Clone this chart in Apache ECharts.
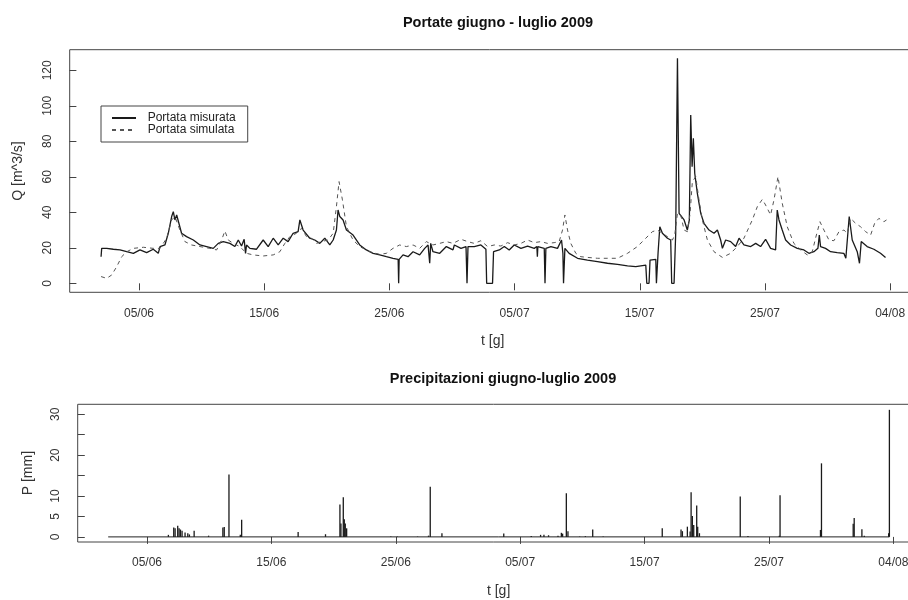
<!DOCTYPE html>
<html>
<head>
<meta charset="utf-8">
<title>Portate giugno - luglio 2009</title>
<script src="https://cdn.jsdelivr.net/npm/echarts@6/dist/echarts.min.js"></script>
<style>
html, body { margin: 0; padding: 0; background: #fff; }
#main { width: 908px; height: 600px; }
</style>
</head>
<body>
<div id="main"></div>
<script>
// tempo in giorni: 5 = 05/06 00:00, 35 = 05/07, 65 = 04/08
const dayTicks = [5, 15, 25, 35, 45, 55, 65]
const dayTickLabels = ['05/06', '15/06', '25/06', '05/07', '15/07', '25/07', '04/08']

// portata misurata [giorno, Q m^3/s]
const portataMisurata = [
    [1.97, 15.0], [2.02, 19.7], [2.42, 19.7], [2.95, 19.2], [3.48, 18.8], [4.02, 17.8], [4.55, 16.9],
    [5.08, 18.8], [5.61, 17.3], [6.14, 19.2], [6.54, 16.9], [6.68, 20.7], [7.07, 21.6], [7.34, 28.2],
    [7.61, 37.6], [7.74, 40.4], [7.87, 35.7], [8.01, 38.5], [8.14, 37.6], [8.40, 28.2], [8.80, 26.3],
    [9.34, 24.4], [9.87, 21.6], [10.40, 20.7], [10.93, 19.7], [11.33, 22.5], [11.73, 23.5], [12.26, 22.5],
    [12.66, 20.7], [12.93, 24.4], [13.19, 21.0], [13.40, 24.8], [13.51, 16.9], [13.59, 21.6], [13.86, 19.7],
    [14.39, 19.2], [14.92, 24.4], [15.32, 20.7], [15.72, 25.4], [16.12, 21.6], [16.52, 25.4], [16.91, 23.5],
    [17.31, 28.2], [17.71, 29.1], [17.85, 35.7], [18.11, 30.0], [18.64, 25.4], [19.04, 24.4], [19.44, 22.5],
    [19.84, 25.4], [20.24, 21.6], [20.51, 24.4], [20.77, 30.0], [20.90, 41.3], [21.04, 37.6], [21.30, 35.7],
    [21.57, 30.0], [22.10, 27.2], [22.63, 21.6], [23.16, 18.8], [23.70, 16.9], [24.23, 16.0], [24.76, 15.0],
    [25.29, 14.1], [25.70, 13.5], [25.74, 0], [25.78, 13.5], [26.09, 16.0], [26.49, 15.0], [26.89, 17.8],
    [27.42, 16.0], [27.82, 19.7], [28.09, 21.6], [28.22, 11.3], [28.30, 22.5], [28.48, 17.8], [29.02, 16.9],
    [29.55, 20.7], [30.08, 18.8], [30.19, 21.6], [30.72, 19.7], [31.12, 20.7], [31.20, 0], [31.28, 20.7],
    [31.78, 20.7], [32.31, 21.6], [32.71, 19.2], [32.77, 0], [33.24, 0], [33.32, 17.8], [33.78, 18.8],
    [34.18, 20.7], [34.57, 18.8], [34.97, 21.6], [35.51, 19.7], [36.04, 21.0], [36.57, 19.7], [36.78, 20.7],
    [36.82, 15.0], [36.86, 20.7], [37.37, 19.7], [37.43, 0], [37.50, 19.7], [37.90, 20.7], [38.43, 19.7],
    [38.75, 24.4], [38.86, 16.9], [38.91, 0], [39.02, 19.7], [39.36, 16.9], [40.03, 14.1], [40.82, 13.1],
    [41.62, 12.2], [42.42, 11.3], [43.22, 10.7], [44.02, 9.8], [44.68, 9.4], [45.48, 10.3], [45.56, 0],
    [45.74, 0], [45.82, 13.1], [46.28, 13.5], [46.33, 0], [46.40, 0], [46.46, 16.9], [46.60, 31.9],
    [46.81, 28.2], [47.21, 25.4], [47.47, 24.4], [47.55, 0], [47.74, 0], [47.87, 28.2], [48.01, 126.8],
    [48.14, 39.4], [48.54, 35.7], [48.80, 30.0], [48.96, 35.7], [49.07, 94.8], [49.18, 65.7], [49.28, 81.7],
    [49.39, 62.0], [49.60, 50.7], [49.87, 39.4], [50.13, 33.8], [50.53, 30.0], [50.93, 28.2], [51.20, 30.0],
    [51.46, 24.4], [51.60, 19.7], [51.86, 24.4], [52.26, 23.5], [52.66, 20.7], [52.93, 25.4], [53.32, 21.6],
    [53.86, 20.7], [54.26, 22.5], [54.65, 20.7], [55.05, 24.8], [55.45, 19.7], [55.85, 18.8], [55.98, 41.3],
    [56.12, 35.7], [56.38, 30.0], [56.65, 24.4], [57.05, 21.6], [57.58, 19.7], [58.11, 18.8], [58.51, 16.9],
    [58.91, 17.8], [59.23, 19.7], [59.34, 27.2], [59.44, 20.7], [59.84, 19.7], [60.24, 17.8], [60.77, 17.3],
    [61.30, 16.9], [61.46, 14.1], [61.73, 37.6], [61.97, 24.4], [62.37, 17.8], [62.55, 11.3], [62.69, 23.5],
    [63.16, 20.7], [63.70, 19.2], [64.23, 16.9], [64.63, 14.6]
]

// portata simulata [giorno, Q m^3/s]
const portataSimulata = [
    [1.97, 3.8], [2.42, 2.8], [2.82, 4.7], [3.22, 9.4], [3.62, 15.0], [4.02, 17.8], [4.55, 19.7],
    [5.35, 20.3], [6.14, 19.7], [6.68, 19.7], [7.21, 25.4], [7.61, 35.7], [7.87, 37.6], [8.27, 30.0],
    [8.67, 23.5], [9.20, 21.6], [9.87, 20.7], [10.66, 19.7], [11.20, 18.8], [11.60, 24.4], [11.86, 29.5],
    [12.13, 24.4], [12.53, 22.5], [13.06, 20.7], [13.59, 16.9], [14.12, 16.0], [14.92, 15.4], [15.72, 16.0],
    [16.25, 17.8], [16.65, 22.5], [17.05, 26.3], [17.58, 28.2], [17.98, 31.0], [18.38, 26.3], [18.78, 25.4],
    [19.18, 22.5], [19.57, 23.5], [20.11, 24.4], [20.51, 28.2], [20.77, 43.2], [20.98, 57.3], [21.25, 47.0],
    [21.57, 31.9], [22.10, 24.4], [22.63, 20.7], [23.43, 17.8], [24.23, 16.3], [24.76, 16.9], [25.29, 19.7],
    [25.82, 21.6], [26.36, 20.7], [26.89, 21.6], [27.42, 19.7], [27.95, 23.5], [28.48, 21.6], [29.02, 22.5],
    [29.55, 23.5], [30.08, 22.5], [30.72, 24.8], [31.25, 23.5], [31.78, 22.5], [32.31, 24.0], [32.85, 20.7],
    [33.38, 21.6], [33.91, 21.0], [34.44, 22.9], [34.97, 21.6], [35.51, 22.5], [36.04, 24.4], [36.57, 22.9],
    [37.10, 23.5], [37.63, 22.5], [38.16, 22.9], [38.56, 23.5], [38.83, 30.0], [39.02, 38.5], [39.23, 30.0],
    [39.49, 22.5], [39.89, 16.9], [40.29, 15.0], [40.82, 14.6], [41.62, 14.1], [42.42, 14.1], [43.22, 14.1],
    [44.02, 16.9], [44.81, 20.7], [45.48, 25.4], [46.01, 29.1], [46.41, 30.0], [46.81, 28.2], [47.21, 26.3],
    [47.61, 24.4], [47.79, 27.2], [48.01, 39.4], [48.27, 38.5], [48.54, 30.0], [48.80, 29.1], [49.02, 39.4],
    [49.20, 57.3], [49.47, 60.1], [49.73, 47.0], [50.00, 35.7], [50.40, 24.4], [50.93, 17.8], [51.60, 14.6],
    [52.26, 16.9], [52.79, 20.7], [53.32, 25.4], [53.99, 35.7], [54.39, 43.2], [54.79, 47.3], [55.05, 44.1],
    [55.45, 38.5], [55.72, 47.0], [56.04, 60.1], [56.38, 45.1], [56.78, 31.9], [57.31, 22.5], [57.85, 18.8],
    [58.38, 16.0], [58.78, 17.8], [59.04, 25.4], [59.39, 34.7], [59.71, 30.0], [60.11, 24.4], [60.51, 24.0],
    [60.91, 29.1], [61.31, 30.0], [61.57, 28.2], [61.84, 36.6], [62.24, 33.8], [62.63, 31.9], [63.04, 29.1],
    [63.44, 27.2], [63.76, 33.8], [64.10, 36.6], [64.50, 34.7], [64.71, 35.7]
]

// precipitazioni [giorno, P mm]
const pioggiaPeriodo = [1.88, 64.68]
const precipitazioni = [
    [6.72, 0.5], [7.15, 2.3], [7.26, 2.1], [7.47, 2.7], [7.58, 2.1], [7.69, 1.8], [7.82, 1.5], [8.06, 1.1],
    [8.28, 0.9], [8.41, 0.6], [8.79, 1.5], [9.95, 0.3], [11.10, 2.3], [11.21, 2.4], [11.59, 15.3],
    [12.50, 0.5], [12.61, 4.2], [17.15, 1.2], [19.35, 0.65], [20.51, 7.9], [20.59, 3.3], [20.78, 9.7],
    [20.86, 4.3], [20.94, 3.3], [21.05, 2.1], [24.60, 0.1], [25.13, 0.1], [26.75, 0.1], [27.63, 0.3],
    [27.77, 12.3], [28.71, 0.9], [33.68, 0.8], [35.89, 0.2], [36.64, 0.5], [36.91, 0.5], [37.28, 0.4],
    [38.04, 0.3], [38.31, 1.0], [38.41, 0.8], [38.71, 10.7], [38.84, 1.4], [39.78, 0.1], [40.24, 0.2],
    [40.83, 1.8], [41.67, 0.1], [46.42, 2.1], [47.93, 1.8], [48.04, 1.4], [48.44, 2.5], [48.66, 1.3],
    [48.74, 10.9], [48.84, 5.1], [48.95, 2.9], [49.19, 7.7], [49.27, 2.5], [49.41, 0.9], [52.69, 9.9],
    [53.31, 0.2], [55.83, 0.3], [55.89, 10.2], [59.14, 1.7], [59.22, 18.0], [61.77, 3.2], [61.85, 4.6],
    [62.47, 1.9], [62.66, 0.3], [64.62, 0.9], [64.68, 31.1]
]

const qTicks = [0, 20, 40, 60, 80, 100, 120]
const pTicks = [0, 5, 10, 15, 20, 25, 30]
const pTickLabels = [0, 5, 10, 20, 30]

const FONT = "'Liberation Sans', Arial, Helvetica, sans-serif"
const AXIS_COLOR = '#444'
const TEXT_COLOR = '#333'

let mychart = echarts.init(document.getElementById('main'))

const dayLabel = (v) => {
    const i = dayTicks.indexOf(v)
    return i >= 0 ? dayTickLabels[i] : ''
}

const xAxisBase = (gridIndex, min, max) => ({
    type: 'value',
    gridIndex: gridIndex,
    min: min,
    max: max,
    name: 't [g]',
    nameLocation: 'middle',
    nameGap: 42,
    nameTextStyle: { fontFamily: FONT, fontSize: 14, color: TEXT_COLOR },
    axisLine: { show: false },
    splitLine: { show: false },
    axisTick: { show: true, length: 7, lineStyle: { color: AXIS_COLOR }, customValues: dayTicks },
    axisLabel: {
        customValues: dayTicks,
        formatter: dayLabel,
        margin: 15,
        fontFamily: FONT,
        fontSize: 12,
        color: TEXT_COLOR
    }
})

const yAxisBase = (gridIndex, min, max, ticks, labels, name, gap) => ({
    type: 'value',
    gridIndex: gridIndex,
    min: min,
    max: max,
    name: name,
    nameLocation: 'middle',
    nameGap: gap,
    nameTextStyle: { fontFamily: FONT, fontSize: 14, color: TEXT_COLOR },
    axisLine: { show: false },
    splitLine: { show: false },
    axisTick: { show: true, length: 7, lineStyle: { color: AXIS_COLOR }, customValues: ticks },
    axisLabel: {
        customValues: labels,
        rotate: 90,
        margin: 16,
        fontFamily: FONT,
        fontSize: 12,
        color: TEXT_COLOR
    }
})

var option = {
    animation: false,
    backgroundColor: '#fff',
    title: [
        {
            text: 'Portate giugno - luglio 2009',
            left: 493,
            top: 10,
            textAlign: 'center',
            textStyle: { fontFamily: FONT, fontSize: 14.5, fontWeight: 'bold', color: '#111' }
        },
        {
            text: 'Precipitazioni giugno-luglio 2009',
            left: 498,
            top: 366,
            textAlign: 'center',
            textStyle: { fontFamily: FONT, fontSize: 14.5, fontWeight: 'bold', color: '#111' }
        }
    ],
    legend: {
        data: ['Portata misurata', 'Portata simulata'],
        orient: 'vertical',
        left: 101,
        top: 106,
        padding: [6, 12, 6, 10],
        itemGap: 0,
        itemWidth: 24,
        itemHeight: 12,
        borderColor: AXIS_COLOR,
        borderWidth: 1,
        borderRadius: 0,
        itemStyle: { opacity: 0 },
        formatter: (n) => '  ' + n,
        textStyle: { fontFamily: FONT, fontSize: 12, color: '#222', lineHeight: 12 }
    },
    grid: [
        { left: 69.7, top: 49.7, width: 846, height: 242.6, outerBoundsMode: 'none', show: true, borderColor: AXIS_COLOR, borderWidth: 1, backgroundColor: 'transparent' },
        { left: 77.7, top: 404.3, width: 841.8, height: 137.7, outerBoundsMode: 'none', show: true, borderColor: AXIS_COLOR, borderWidth: 1, backgroundColor: 'transparent' }
    ],
    xAxis: [
        xAxisBase(0, -0.535, 67.04),
        xAxisBase(1, -0.57, 67.1)
    ],
    yAxis: [
        yAxisBase(0, -5.06, 131.6, qTicks, qTicks, 'Q [m^3/s]', 45),
        yAxisBase(1, -1.25, 32.45, pTicks, pTickLabels, 'P [mm]', 43)
    ],
    series: [
        {
            name: 'Portata misurata',
            type: 'line',
            xAxisIndex: 0,
            yAxisIndex: 0,
            symbol: 'none',
            color: '#1a1a1a',
            lineStyle: { color: '#1a1a1a', width: 1.3 },
            data: portataMisurata
        },
        {
            name: 'Portata simulata',
            type: 'line',
            xAxisIndex: 0,
            yAxisIndex: 0,
            symbol: 'none',
            color: '#555',
            lineStyle: { color: '#555', width: 1, type: [4, 4] },
            data: portataSimulata
        },
        {
            name: 'base',
            type: 'line',
            xAxisIndex: 1,
            yAxisIndex: 1,
            symbol: 'none',
            lineStyle: { color: '#222', width: 1 },
            data: pioggiaPeriodo.map((d) => [d, 0])
        },
        {
            name: 'P',
            type: 'bar',
            xAxisIndex: 1,
            yAxisIndex: 1,
            barWidth: 1.3,
            itemStyle: { color: '#1a1a1a' },
            data: precipitazioni
        }
    ]
}

mychart.setOption(option)
</script>
</body>
</html>
